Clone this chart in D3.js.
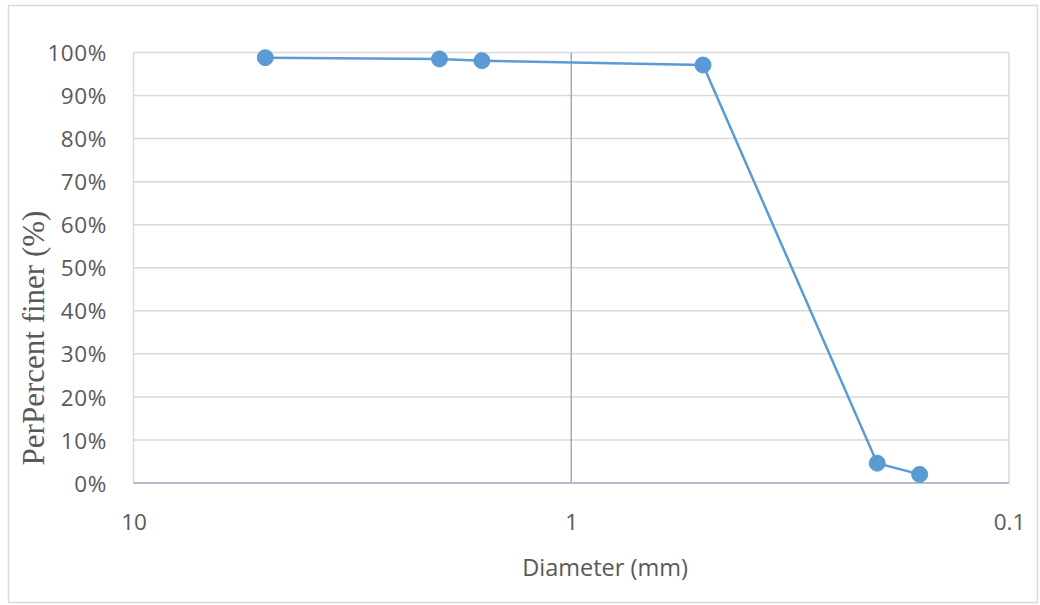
<!DOCTYPE html>
<html>
<head>
<meta charset="utf-8">
<script src="https://cdn.jsdelivr.net/npm/d3@7"></script>
<style>
  html, body { margin: 0; padding: 0; background: #fff; }
  svg { display: block; }
</style>
</head>
<body>
<svg id="chart" width="1040" height="605"></svg>
<script>
// Data
const diameters = [5, 2, 1.6, 0.5, 0.2, 0.16];          // mm
const percentFiner = [98.8, 98.5, 98.1, 97.1, 4.6, 2.0]; // %
const xTickValues = [10, 1, 0.1];
const xTickLabels = ["10", "1", "0.1"];
const yTickValues = [0, 10, 20, 30, 40, 50, 60, 70, 80, 90, 100];
const yTickLabels = ["0%", "10%", "20%", "30%", "40%", "50%", "60%", "70%", "80%", "90%", "100%"];
const xTitle = "Diameter (mm)";
const yTitle = "PerPercent finer (%)";

const svg = d3.select("#chart");
const L = 133.5, R = 1009, T = 52.5, B = 483;

// outer border
svg.append("rect").attr("x", 8.5).attr("y", 5.5).attr("width", 1029).attr("height", 597)
  .attr("fill", "#fff").attr("stroke", "#D9D9D9").attr("stroke-width", 1.5);

const x = d3.scaleLog().domain([10, 0.1]).range([L, R]);
const y = d3.scaleLinear().domain([0, 100]).range([B, T]);

const labelFont = "'Open Sans', 'Liberation Sans', sans-serif";
const textColor = "#595959";

// horizontal gridlines
svg.append("g").selectAll("line").data(yTickValues.filter(v => v > 0)).join("line")
  .attr("x1", L).attr("x2", R).attr("y1", d => y(d)).attr("y2", d => y(d))
  .attr("stroke", "#D9D9D9").attr("stroke-width", 1.5);

// vertical edges (left & right) light
svg.append("g").selectAll("line").data([10, 0.1]).join("line")
  .attr("x1", d => x(d)).attr("x2", d => x(d)).attr("y1", T).attr("y2", B)
  .attr("stroke", "#D9D9D9").attr("stroke-width", 1.5);

// y axis (crosses at 1)
svg.append("line").attr("x1", x(1)).attr("x2", x(1)).attr("y1", T).attr("y2", B)
  .attr("stroke", "#A6ABB8").attr("stroke-width", 1.5);

// x axis line
svg.append("line").attr("x1", L).attr("x2", R).attr("y1", B).attr("y2", B)
  .attr("stroke", "#B4BCCB").attr("stroke-width", 2);

// y tick labels via axis
const yAxis = d3.axisLeft(y).tickValues(yTickValues)
  .tickFormat((d, i) => yTickLabels[i]).tickSize(0).tickPadding(0);
const gy = svg.append("g").attr("transform", `translate(${107},0)`).call(yAxis);
gy.select(".domain").remove();
gy.selectAll("text").attr("font-family", labelFont).attr("font-size", 22.5)
  .attr("letter-spacing", "0.6px")
  .attr("fill", textColor).attr("dy", "0.36em");

// x tick labels via axis
const xAxis = d3.axisBottom(x).tickValues(xTickValues)
  .tickFormat((d, i) => xTickLabels[i]).tickSize(0).tickPadding(0);
const gx = svg.append("g").attr("transform", `translate(0,${530})`).call(xAxis);
gx.select(".domain").remove();
gx.selectAll("text").attr("font-family", labelFont).attr("font-size", 22.5)
  .attr("fill", textColor).attr("dy", 0);

// axis titles
svg.append("text").attr("x", 605).attr("y", 576).attr("text-anchor", "middle")
  .attr("font-family", labelFont).attr("font-size", 23.5).attr("fill", textColor)
  .text(xTitle);

svg.append("text").attr("transform", `translate(44,338) rotate(-90)`)
  .attr("text-anchor", "middle")
  .attr("font-family", "'Liberation Serif', 'DejaVu Serif', serif").attr("font-size", 31)
  .attr("fill", textColor).text(yTitle);

// series
const pts = diameters.map((d, i) => [d, percentFiner[i]]);
const line = d3.line().x(d => x(d[0])).y(d => y(d[1]));
svg.append("path").datum(pts).attr("d", line).attr("fill", "none")
  .attr("stroke", "#5B9BD5").attr("stroke-width", 2.5);
svg.append("g").selectAll("circle").data(pts).join("circle")
  .attr("cx", d => x(d[0])).attr("cy", d => y(d[1])).attr("r", 8)
  .attr("fill", "#5B9BD5").attr("stroke", "#5B9BD5").attr("stroke-width", 1);
</script>
</body>
</html>
